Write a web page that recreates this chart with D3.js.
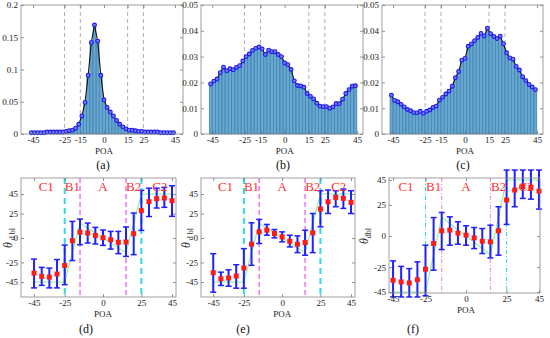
<!DOCTYPE html>
<html>
<head>
<meta charset="utf-8">
<script src="https://cdn.jsdelivr.net/npm/d3@7"></script>
<style>
body{margin:0;background:#fff}
svg{display:block}
svg text{font-family:"Liberation Serif","Times New Roman","DejaVu Serif",serif}
</style>
</head>
<body>
<svg width="550" height="338"></svg>
<script>
// histogram bins (POA, degrees)
const binCenters = [-46,-44,-42,-40,-38,-36,-34,-32,-30,-28,-26,-24,-22,-20,-18,-16,-14,-12,-10,-8,-6,-4,-2,
  0,2,4,6,8,10,12,14,16,18,20,22,24,26,28,30,32,34,36,38,40,42,44];
const histA = [0.002,0.002,0.002,0.002,0.002,0.003,0.003,0.003,0.003,0.003,0.003,0.004,0.005,0.006,0.009,0.015,0.028,0.049,0.091,0.142,0.169,0.144,0.091,
  0.053,0.041,0.034,0.028,0.021,0.015,0.011,0.008,0.006,0.006,0.005,0.004,0.004,0.003,0.003,0.003,0.003,0.003,0.002,0.002,0.002,0.002,0.002];
const histB = [0.0194,0.0205,0.0213,0.0238,0.0259,0.0245,0.0253,0.0249,0.0258,0.0265,0.0283,0.0300,0.0310,0.0324,0.0332,0.0337,0.0330,0.0308,0.0325,0.0319,0.0319,0.0308,0.0300,
  0.0275,0.0269,0.0250,0.0206,0.0188,0.0186,0.0181,0.0157,0.0146,0.0136,0.0119,0.0108,0.0106,0.0106,0.0100,0.0105,0.0118,0.0117,0.0135,0.0157,0.0172,0.0185,0.0187];
const histC = [0.015,0.013,0.0125,0.0115,0.0105,0.0095,0.009,0.0083,0.0082,0.0088,0.008,0.0088,0.0093,0.0103,0.0108,0.0131,0.0142,0.0155,0.0166,0.0185,0.0218,0.0242,0.0286,
  0.0293,0.034,0.0349,0.0362,0.0374,0.039,0.038,0.041,0.0389,0.0378,0.037,0.0379,0.035,0.0315,0.0295,0.029,0.0262,0.0248,0.0222,0.0207,0.0192,0.0182,0.0172];

const histXTicks = [-45,-25,-15,0,15,25,45];
const histYTicksA = [0,0.05,0.1,0.15,0.2];
const histYTicksB = [0,0.01,0.02,0.03,0.04,0.05];
const guideLines = [-25,-15,15,25];

// error bar panels
const poaPts = [-45,-40,-35,-30,-25,-20,-15,-10,-5,0,5,10,15,20,25,30,35,40,45];
const meanD = [-35.8,-39.2,-39.9,-36.8,-28,-2.7,6.1,5.1,2.7,0.3,-1.7,-4.4,-4.1,4.4,28,37.2,40.2,40.9,38.2];
const hiD   = [-21.5,-30,-30.7,-22,-7.2,17,19.4,15.3,10.9,8.2,6.8,6.8,11.3,25.6,48.8,51,51,51.8,53.5];
const loD   = [-51,-48.4,-51,-51,-47.7,-23,-6.8,-5.1,-6.1,-7.5,-11.3,-16,-18.8,-17,7.8,22,30.7,31.4,22.2];
const meanE = [-35.4,-41.6,-40.9,-38.8,-30.6,-6.3,6.3,8,4.6,1.2,-3.3,-6.3,-4.6,5.3,29.6,37.1,41.6,40.6,36.5];
const hiE   = [-16,-34.9,-32.5,-27.3,-10.8,15.6,19,13.9,8.7,6.3,2.9,2.2,8,25.1,48.4,49.1,48.4,50.1,48.4];
const loE   = [-55.4,-48.5,-49.3,-51.3,-51.3,-27.9,-5.6,2.9,0.2,-3.9,-9.1,-14.9,-17.6,-14.9,11.5,25.1,32,30.3,25.1];
const meanF = [-35.6,-36.9,-37.7,-35.1,-26.7,-6,4.2,4.7,2.3,0.7,-1.5,-4.2,-4.7,4.2,28.9,36.9,39.6,39.1,36.1];
const hiF   = [-20,-24.4,-26.2,-20.8,-7.4,14.8,18.9,15.4,11.4,8.2,6.8,6,8.7,23.5,53,53,53,53,53];
const loF   = [-49,-49,-49,-49,-48,-27.5,-10.9,-7.4,-6.6,-7.4,-10.1,-14.1,-17.6,-15.4,9.3,23.5,30.2,29.6,21.6];

const idealX = [-45,-25,-15,15,25,45];
const idealY = [-45,-45,15,-15,45,45];
const regionNames = ['C1','B1','A','B2','C2'];
const regionPos = [-37,-20,0,20,37];
const cyanLines = [-25,25];
const magentaLines = [-15,15];
const errXTicks = [-45,-25,0,25,45];
const errYTicks = [-45,-25,0,25,45];

const svg = d3.select('svg')
const serif = 'Liberation Serif, Times New Roman, serif'

function frame(g, x, y, xt, yt, yfmt){
    const [x0,x1] = x.range(), [y1,y0] = y.range()
    const clean = s => {
        s.attr('font-family',serif)
        s.select('.domain').remove()
        s.selectAll('line').attr('stroke','#666').attr('stroke-width',0.7)
        s.selectAll('text').attr('font-size',9).attr('fill','#222')
    }
    g.append('g').attr('transform','translate(0,'+y1+')')
        .call(d3.axisBottom(x).tickValues(xt).tickSize(-3).tickPadding(3).tickFormat(d => String(d)))
        .call(clean)
    g.append('g').attr('transform','translate(0,'+y0+')')
        .call(d3.axisTop(x).tickValues(xt).tickSize(-3).tickFormat(''))
        .call(clean)
    g.append('g').attr('transform','translate('+x0+',0)')
        .call(d3.axisLeft(y).tickValues(yt).tickSize(-3).tickPadding(3).tickFormat(yfmt))
        .call(clean)
    g.append('g').attr('transform','translate('+x1+',0)')
        .call(d3.axisRight(y).tickValues(yt).tickSize(-3).tickFormat(''))
        .call(clean)
    g.append('rect').attr('x',x0).attr('y',y0).attr('width',x1-x0).attr('height',y1-y0)
        .attr('fill','none').attr('stroke','#888').attr('stroke-width',0.8)
}

function histPanel(p){
    const g = svg.append('g')
    const x = d3.scaleLinear().domain(p.xDom).range([p.x0,p.x1])
    const y = d3.scaleLinear().domain(p.yDom).range([p.y1,p.y0])
    g.selectAll('.guide').data(guideLines).enter().append('line')
        .attr('x1',d=>x(d)).attr('x2',d=>x(d)).attr('y1',p.y0).attr('y2',p.y1)
        .attr('stroke','#999').attr('stroke-width',0.8).attr('stroke-dasharray','4,3')
    const pts = binCenters.map((c,i) => ({c:c, v:p.vals[i]}))
    g.selectAll('.bar').data(pts).enter().append('rect')
        .attr('x',d=>x(d.c-0.9)).attr('width',d=>x(d.c+0.9)-x(d.c-0.9))
        .attr('y',d=>y(d.v)).attr('height',d=>y(0)-y(d.v))
        .attr('fill','#64a8d4').attr('stroke','#2c6a98').attr('stroke-width',0.5)
    g.append('path').datum(pts)
        .attr('d',d3.line().x(d=>x(d.c)).y(d=>y(d.v)))
        .attr('fill','none').attr('stroke','#111').attr('stroke-width',1.1)
    g.selectAll('.mk').data(pts).enter().append('circle')
        .attr('cx',d=>x(d.c)).attr('cy',d=>y(d.v)).attr('r',1.9)
        .attr('fill','#7a7aff').attr('stroke','#1a1ae6').attr('stroke-width',1.1)
    frame(g,x,y,histXTicks,p.yTicks,d3.format('~g'))
    g.append('text').attr('x',x(0)).attr('y',154).attr('text-anchor','middle')
        .attr('font-size',9).attr('fill','#222').text('POA')
    g.append('text').attr('x',p.lx).attr('y',169).attr('text-anchor','middle')
        .attr('font-size',12).attr('fill','#111').text(p.label)
}

function errPanel(p){
    const g = svg.append('g')
    const x = d3.scaleLinear().domain(p.xDom).range([p.x0,p.x1])
    const y = d3.scaleLinear().domain(p.yDom).range([p.y1,p.y0])
    g.append('path').datum(idealX.map((v,i)=>[v,idealY[i]]))
        .attr('d',d3.line().x(d=>x(d[0])).y(d=>y(d[1])))
        .attr('fill','none').attr('stroke','#8fee8f').attr('stroke-width',1.1)
    g.selectAll('.cy').data(cyanLines).enter().append('line')
        .attr('x1',d=>x(d)).attr('x2',d=>x(d)).attr('y1',p.y0).attr('y2',p.y1)
        .attr('stroke','#2fd8e8').attr('stroke-width',p.thin ? 1 : 2)
        .attr('stroke-dasharray',p.thin ? '4,2,1,2' : '6,4')
    g.selectAll('.mg').data(magentaLines).enter().append('line')
        .attr('x1',d=>x(d)).attr('x2',d=>x(d)).attr('y1',p.y0).attr('y2',p.y1)
        .attr('stroke','#ee7cee').attr('stroke-width',p.thin ? 1 : 1.6)
        .attr('stroke-dasharray',p.thin ? '4,2,1,2' : '5,3')
    const pts = poaPts.map((c,i) => ({c:c, m:p.mean[i], hi:p.hi[i], lo:p.lo[i]}))
    const eb = g.selectAll('.eb').data(pts).enter().append('g')
    eb.append('line').attr('x1',d=>x(d.c)).attr('x2',d=>x(d.c)).attr('y1',d=>y(d.hi)).attr('y2',d=>y(d.lo))
        .attr('stroke','#1f1fff').attr('stroke-width',2)
    eb.append('line').attr('x1',d=>x(d.c)-3).attr('x2',d=>x(d.c)+3).attr('y1',d=>y(d.hi)).attr('y2',d=>y(d.hi))
        .attr('stroke','#1f1fff').attr('stroke-width',1.5)
    eb.append('line').attr('x1',d=>x(d.c)-3).attr('x2',d=>x(d.c)+3).attr('y1',d=>y(d.lo)).attr('y2',d=>y(d.lo))
        .attr('stroke','#1f1fff').attr('stroke-width',1.5)
    eb.append('rect').attr('x',d=>x(d.c)-2.5).attr('y',d=>y(d.m)-2.5).attr('width',5).attr('height',5)
        .attr('fill','#ff1a1a')
    frame(g,x,y,errXTicks,errYTicks,d=>String(d))
    g.selectAll('.rn').data(regionNames).enter().append('text')
        .attr('x',(d,i)=>x(regionPos[i])).attr('y',p.y0+13).attr('text-anchor','middle')
        .attr('font-size',13).attr('fill','#ff3030').text(d=>d)
    g.append('text').attr('x',x(0)).attr('y',p.y1+20).attr('text-anchor','middle')
        .attr('font-size',9).attr('fill','#222').text('POA')
    const yl = g.append('text').attr('transform','translate('+p.ylx+','+y(0)+') rotate(-90)')
        .attr('text-anchor','middle').attr('fill','#333')
    yl.append('tspan').attr('font-size',12).attr('font-style','italic').text('θ')
    yl.append('tspan').attr('font-size',8).attr('dy',3).text(p.sub)
    g.append('text').attr('x',p.lx).attr('y',333).attr('text-anchor','middle')
        .attr('font-size',12).attr('fill','#111').text(p.label)
}

histPanel({x0:21,x1:183,y0:5,y1:134,xDom:[-52.6,50.1],yDom:[0,0.2],yTicks:histYTicksA,vals:histA,label:'(a)',lx:103})
histPanel({x0:201,x1:363,y0:5,y1:134,xDom:[-52,48.7],yDom:[0,0.05],yTicks:histYTicksB,vals:histB,label:'(b)',lx:283})
histPanel({x0:382,x1:543,y0:5,y1:134,xDom:[-51.9,48.75],yDom:[0,0.05],yTicks:histYTicksB,vals:histC,label:'(c)',lx:463})

errPanel({x0:21,x1:176,y0:178,y1:297,xDom:[-53.5,47.6],yDom:[-60.3,61.4],mean:meanD,hi:hiD,lo:loD,label:'(d)',lx:86,ylx:12,sub:' d bl'})
errPanel({x0:201,x1:355,y0:178,y1:297,xDom:[-53,47.6],yDom:[-60.3,61.4],mean:meanE,hi:hiE,lo:loE,label:'(e)',lx:243,ylx:190,sub:' d bl'})
errPanel({x0:389,x1:540,y0:178,y1:293,xDom:[-47.5,45.6],yDom:[-45.8,46.6],mean:meanF,hi:hiF,lo:loF,label:'(f)',lx:413,ylx:368,sub:'dbl',thin:true})
</script>
</body>
</html>
